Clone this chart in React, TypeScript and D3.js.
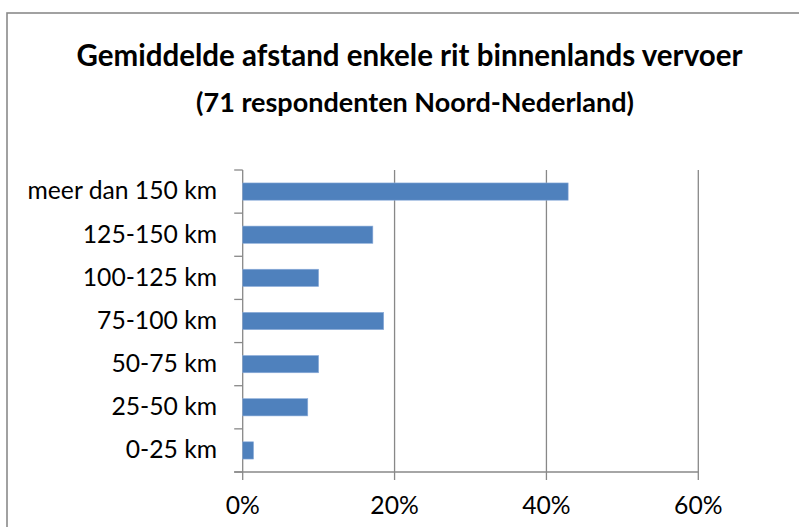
import React from "react";
import * as d3 from "d3";

const categories = [
  "meer dan 150 km",
  "125-150 km",
  "100-125 km",
  "75-100 km",
  "50-75 km",
  "25-50 km",
  "0-25 km",
];
const values = [42.86, 17.14, 10.0, 18.57, 10.0, 8.57, 1.43];
const xTicks = [0, 20, 40, 60];
const titleLine1 = "Gemiddelde afstand enkele rit binnenlands vervoer";
const titleLine2 = "(71 respondenten Noord-Nederland)";

const W = 799;
const H = 527;
const FONT = "Lato, 'Open Sans', sans-serif";

export default function App() {
  const x = d3.scaleLinear().domain([0, 60]).range([242.7, 698.3]);
  const y = d3
    .scaleBand<string>()
    .domain(categories)
    .range([170, 472])
    .paddingInner(0.6)
    .paddingOuter(0.3);
  const step = y.step();
  const top = 170;
  const bottom = 472;
  const grid = "#888888";
  const boundaries = d3.range(categories.length + 1).map((i) => top + i * step);

  return (
    <svg
      width={W}
      height={H}
      style={{ position: "absolute", left: 0, top: 0, background: "#fff" }}
      fontFamily={FONT}
    >
      <rect x={0} y={0} width={W} height={H} fill="#fff" />
      <rect x={7} y={13} width={900} height={700} fill="none" stroke="#8a8a8a" strokeWidth={1.6} />

      <text x={409.5} y={66} textAnchor="middle" fontWeight={700} fontSize={29.5} fill="#000">
        {titleLine1}
      </text>
      <text x={415} y={111.5} textAnchor="middle" fontWeight={700} fontSize={27} fill="#000">
        {titleLine2}
      </text>

      {/* vertical gridlines */}
      {xTicks.map((t) => (
        <line
          key={"g" + t}
          x1={x(t)}
          x2={x(t)}
          y1={top}
          y2={bottom + 8}
          stroke={grid}
          strokeWidth={1.3}
        />
      ))}

      {/* y axis ticks */}
      {boundaries.map((b, i) => (
        <line key={"yt" + i} x1={x(0) - 8.5} x2={x(0)} y1={b} y2={b} stroke={grid} strokeWidth={1.3} />
      ))}

      {/* x axis line */}
      <line x1={x(0) - 8.5} x2={x(60)} y1={bottom} y2={bottom} stroke={grid} strokeWidth={1.3} />

      {/* bars */}
      {categories.map((c, i) => (
        <rect
          key={c}
          x={x(0)}
          y={y(c)!}
          width={x(values[i]) - x(0)}
          height={y.bandwidth()}
          fill="#4F81BD"
          stroke="#8eaedb"
          strokeWidth={0.6}
        />
      ))}

      {/* y labels */}
      {categories.map((c) => (
        <text
          key={"l" + c}
          x={217}
          y={y(c)! + y.bandwidth() / 2 + 7.8}
          textAnchor="end"
          fontSize={24.7}
          fill="#000"
        >
          {c}
        </text>
      ))}

      {/* x labels */}
      {xTicks.map((t) => (
        <text key={"xl" + t} x={x(t)} y={514} textAnchor="middle" fontSize={24.7} fill="#000">
          {t + "%"}
        </text>
      ))}
    </svg>
  );
}
